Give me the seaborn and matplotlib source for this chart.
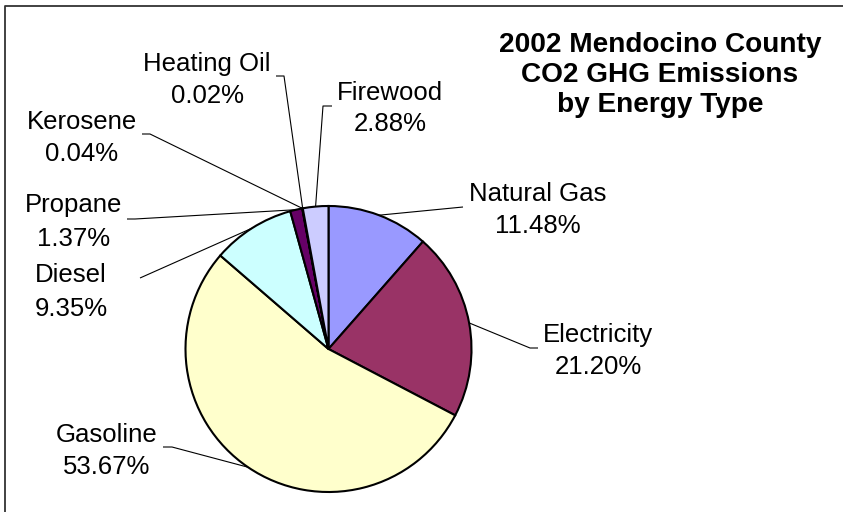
import numpy as np
import matplotlib
matplotlib.use('Agg')
import matplotlib.pyplot as plt
import seaborn as sns

# Data (clockwise from 12 o'clock)
energy_types = ['Natural Gas', 'Electricity', 'Gasoline', 'Diesel',
                'Propane', 'Kerosene', 'Heating Oil', 'Firewood']
shares = [11.48, 21.20, 53.67, 9.35, 1.37, 0.04, 0.02, 2.88]
slice_colors = ['#9999FF', '#993366', '#FFFFCC', '#CCFFFF',
                '#660066', '#FF8080', '#0066CC', '#CCCCFF']
title_lines = ['2002 Mendocino County', 'CO2 GHG Emissions', 'by Energy Type']

# Label layout in pixel coords (x centre, y of name line, y of value line)
label_pos = {
    'Natural Gas': (538, 192, 224),
    'Electricity': (598, 333, 365),
    'Gasoline': (107, 433, 465),
    'Diesel': (71, 273, 307),
    'Propane': (74, 203, 237),
    'Kerosene': (82, 120, 152),
    'Heating Oil': (207, 62, 94),
    'Firewood': (390, 91, 122),
}
# leader line start + elbow, pixel coords
leader_pts = {
    'Natural Gas': [(463, 207)],
    'Electricity': [(538, 348), (530, 348)],
    'Gasoline': [(163, 447), (172, 447)],
    'Diesel': [(140, 278)],
    'Propane': [(127, 219), (135, 219)],
    'Kerosene': [(142, 134), (150, 134)],
    'Heating Oil': [(276, 76), (284, 76)],
    'Firewood': [(332, 106), (323, 106)],
}

sns.set_style('white')
plt.rcParams['font.family'] = ['Liberation Sans', 'DejaVu Sans']
plt.rcParams['text.color'] = 'black'

W, H = 843, 512
fig = plt.figure(figsize=(W / 100, H / 100), dpi=100)
ax = fig.add_axes([0, 0, 1, 1])

cx, cy, r = 328.5, H - 349, 143
wedges, _ = ax.pie(shares, colors=slice_colors, startangle=90, counterclock=False,
                   center=(cx, cy), radius=r,
                   wedgeprops=dict(edgecolor='black', linewidth=1.5))
ax.set_xlim(0, W)
ax.set_ylim(0, H)
ax.set_aspect('equal')
ax.axis('off')

for name, val, w in zip(energy_types, shares, wedges):
    mid = np.deg2rad((w.theta1 + w.theta2) / 2)
    ex, ey = cx + r * np.cos(mid), cy + r * np.sin(mid)
    pts = leader_pts[name]
    xs = [p[0] for p in pts] + [ex]
    ys = [H - p[1] for p in pts] + [ey]
    ax.plot(xs, ys, color='black', lw=0.8, solid_capstyle='butt')
    x, y1, y2 = label_pos[name]
    ax.text(x, H - y1 - 9, name, ha='center', va='baseline', fontsize=18.5,
            color='black')
    ax.text(x, H - y2 - 9, f'{val:.2f}%', ha='center', va='baseline',
            fontsize=18.5, color='black')

for i, line in enumerate(title_lines):
    ax.text(660, H - (42 + 30 * i) - 10, line, ha='center', va='baseline',
            fontsize=20.2, fontweight='bold', color='black')

# chart frame (left and top edges visible)
ax.plot([4.5, 4.5, W + 5], [-5, H - 5.5, H - 5.5], color='#333333', lw=1.3,
        clip_on=False)

fig.savefig('out.png', dpi=100)
